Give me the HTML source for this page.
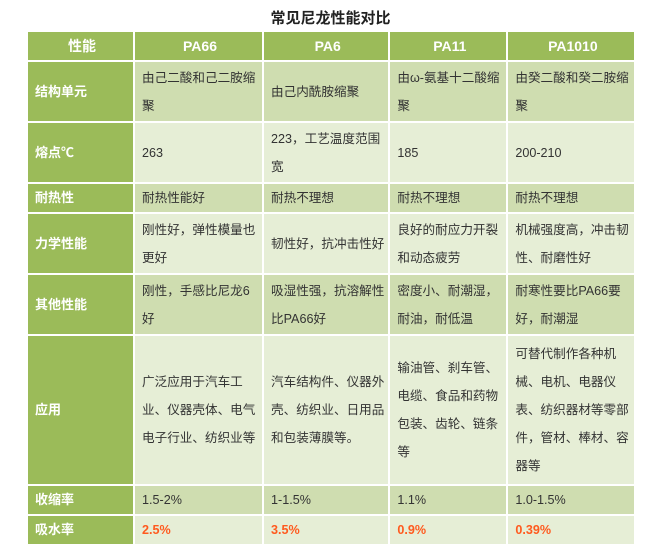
<!DOCTYPE html><html><head><meta charset="utf-8"><style>
body{margin:0;background:#fff;width:661px;height:557px;overflow:hidden;font-family:"Liberation Sans","Noto Sans CJK SC",sans-serif;}
.t{position:absolute;top:7px;left:0;width:661px;text-align:center;font-size:15px;font-weight:bold;color:#222;}
table{position:absolute;left:26px;top:30px;border-collapse:collapse;font-size:12.6px;color:#333;table-layout:fixed;}
td{border:2px solid #fff;padding:0 4px 0 7px;line-height:28px;vertical-align:middle;white-space:nowrap;overflow:hidden;}
tr.h td{background:#9bbb59;color:#fff;font-weight:bold;font-size:14px;text-align:center;height:27px;}
td.f{background:#9bbb59;color:#fff;font-weight:bold;font-size:13px;}
tr.d td:not(.f){background:#cfddb0;}
tr.l td:not(.f){background:#e6eed6;}
.o{color:#ff5a1e;font-weight:bold;}
</style></head><body>
<div class="t">常见尼龙性能对比</div>
<table>
<colgroup><col style="width:107px"><col style="width:129px"><col style="width:126px"><col style="width:118px"><col style="width:128px"></colgroup>
<tr class="h"><td>性能</td><td>PA66</td><td>PA6</td><td>PA11</td><td>PA1010</td></tr>
<tr class="d" style="height:61px"><td class="f">结构单元</td><td>由己二酸和己二胺缩<br>聚</td><td>由己内酰胺缩聚</td><td>由ω-氨基十二酸缩<br>聚</td><td>由癸二酸和癸二胺缩<br>聚</td></tr>
<tr class="l" style="height:61px"><td class="f">熔点℃</td><td>263</td><td>223，工艺温度范围<br>宽</td><td>185</td><td>200-210</td></tr>
<tr class="d" style="height:30px"><td class="f">耐热性</td><td>耐热性能好</td><td>耐热不理想</td><td>耐热不理想</td><td>耐热不理想</td></tr>
<tr class="l" style="height:61px"><td class="f">力学性能</td><td>刚性好，弹性模量也<br>更好</td><td>韧性好，抗冲击性好</td><td>良好的耐应力开裂<br>和动态疲劳</td><td>机械强度高，冲击韧<br>性、耐磨性好</td></tr>
<tr class="d" style="height:61px"><td class="f">其他性能</td><td>刚性，手感比尼龙6<br>好</td><td>吸湿性强，抗溶解性<br>比PA66好</td><td>密度小、耐潮湿，<br>耐油，耐低温</td><td>耐寒性要比PA66要<br>好，耐潮湿</td></tr>
<tr class="l" style="height:150px"><td class="f">应用</td><td>广泛应用于汽车工<br>业、仪器壳体、电气<br>电子行业、纺织业等</td><td>汽车结构件、仪器外<br>壳、纺织业、日用品<br>和包装薄膜等。</td><td>输油管、刹车管、<br>电缆、食品和药物<br>包装、齿轮、链条<br>等</td><td>可替代制作各种机<br>械、电机、电器仪<br>表、纺织器材等零部<br>件，管材、棒材、容<br>器等</td></tr>
<tr class="d" style="height:30px"><td class="f">收缩率</td><td>1.5-2%</td><td>1-1.5%</td><td>1.1%</td><td>1.0-1.5%</td></tr>
<tr class="l" style="height:30px"><td class="f">吸水率</td><td class="o">2.5%</td><td class="o">3.5%</td><td class="o">0.9%</td><td class="o">0.39%</td></tr>
</table>
</body></html>
